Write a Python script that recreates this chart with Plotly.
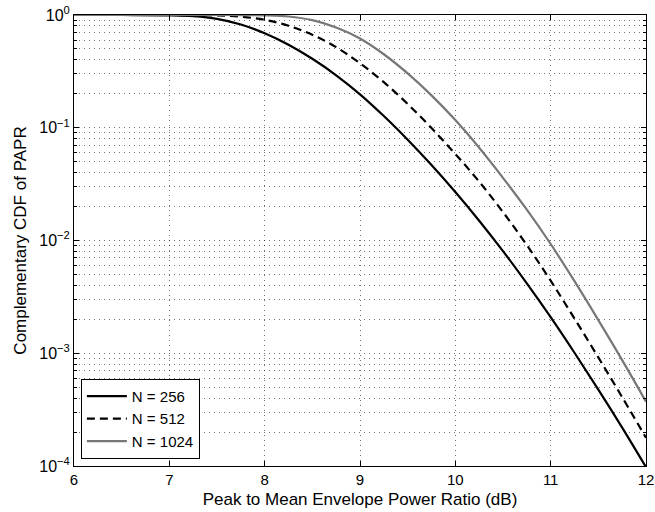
import plotly.graph_objects as go

papr_db = [6, 6.5, 7, 7.25, 7.5, 7.75, 8, 8.25, 8.5, 8.75, 9, 9.25, 9.5, 9.75,
           10, 10.25, 10.5, 10.75, 11, 11.25, 11.5, 11.75, 12]
ccdf_256 = [1.0, 0.99977, 0.9943, 0.977, 0.925, 0.824, 0.689, 0.545, 0.409, 0.292,
            0.198, 0.127, 0.0783, 0.0467, 0.0269, 0.01496, 0.00804, 0.00417,
            0.00209, 0.00101, 0.000476, 0.000219, 0.0000977]
ccdf_512 = [1.0, 1.0, 0.99977, 0.99816, 0.9908, 0.966, 0.906, 0.803, 0.668, 0.519,
            0.373, 0.2535, 0.1626, 0.0993, 0.0585, 0.03327, 0.01786, 0.00910,
            0.00440, 0.00203, 0.000918, 0.000408, 0.000178]
ccdf_1024 = [1.0, 1.0, 1.0, 1.0, 0.99995, 0.9992, 0.9931, 0.9705, 0.8995, 0.7745,
             0.6194, 0.4487, 0.3034, 0.1936, 0.1169, 0.0665, 0.03597, 0.01875,
             0.00931, 0.004355, 0.001968, 0.000869, 0.000372]
series_names = ["N = 256", "N = 512", "N = 1024"]

x_ticks = [6, 7, 8, 9, 10, 11, 12]
y_ticks = [1e-4, 1e-3, 1e-2, 1e-1, 1]
y_ticklabels = ["10<sup>\u22124</sup>", "10<sup>\u22123</sup>", "10<sup>\u22122</sup>",
                "10<sup>\u22121</sup>", "10<sup>0</sup>"]
y_minor = [k * 10.0 ** e for e in range(-4, 0) for k in range(2, 10)]

fig = go.Figure()
styles = [dict(color="#000000", width=2.2, dash="solid"),
          dict(color="#000000", width=2.2, dash="8px,5px"),
          dict(color="#777777", width=2.2, dash="solid")]
for name, ys, st in zip(series_names, [ccdf_256, ccdf_512, ccdf_1024], styles):
    fig.add_trace(go.Scatter(x=papr_db, y=ys, mode="lines", name=name,
                             line=dict(shape="spline", smoothing=1.0, **st)))

font = dict(family="Liberation Sans, Arial, sans-serif", size=14, color="#000000")
grid_col = "rgba(0,0,0,0.55)"
grid_dash = "1px,4px"

fig.update_layout(
    width=655, height=512,
    margin=dict(l=74, r=9, t=15, b=46),
    paper_bgcolor="white", plot_bgcolor="white",
    font=font,
    showlegend=True,
    legend=dict(x=0.012, y=0.016, xanchor="left", yanchor="bottom",
                bgcolor="white", bordercolor="black", borderwidth=1,
                font=dict(size=15), tracegroupgap=0, itemwidth=40),
    xaxis=dict(range=[6, 12], tickvals=x_ticks, ticks="inside", ticklen=5,
               tickcolor="black", showline=True, linecolor="black", linewidth=1,
               mirror="allticks", showgrid=True, gridcolor=grid_col, griddash=grid_dash,
               gridwidth=1, zeroline=False, automargin=False,
               title=dict(text="Peak to Mean Envelope Power Ratio (dB)", standoff=6),
               tickfont=dict(size=15)),
    yaxis=dict(type="log", range=[-4, 0], tickvals=y_ticks, ticktext=y_ticklabels,
               ticks="inside", ticklen=5, tickcolor="black", showline=True,
               linecolor="black", linewidth=1, mirror="allticks",
               showgrid=True, gridcolor=grid_col, griddash=grid_dash, gridwidth=1,
               zeroline=False, automargin=False,
               minor=dict(tickvals=y_minor, ticks="inside", ticklen=3,
                          tickcolor="black", showgrid=True, gridcolor=grid_col,
                          griddash=grid_dash, gridwidth=1),
               title=dict(text="Complementary CDF of PAPR", standoff=8),
               tickfont=dict(size=16)),
)

fig.write_html("out.html")
